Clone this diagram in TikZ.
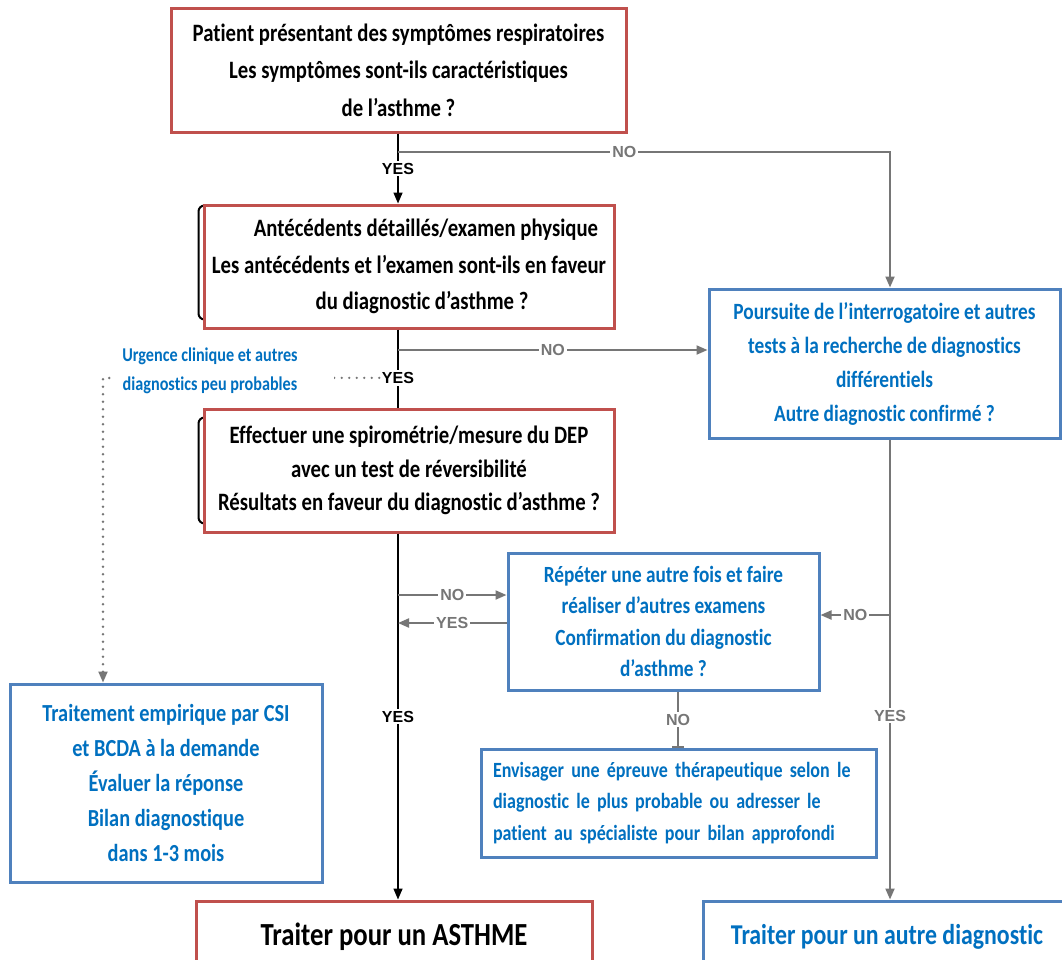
\documentclass[tikz,border=0pt]{standalone}
\usepackage{fontspec}
\setmainfont[FakeStretch=0.83, Ligatures=NoCommon]{Carlito}
\newfontfamily\tagfont{Liberation Sans}
\usetikzlibrary{arrows.meta,positioning,backgrounds}
\definecolor{boxred}{RGB}{192,80,77}
\definecolor{boxblue}{RGB}{79,129,189}
\definecolor{textblue}{RGB}{0,112,192}
\definecolor{linegray}{RGB}{118,118,118}

\begin{document}
\begin{tikzpicture}[x=1pt, y=-1pt,
  redbox/.style={draw=boxred, line width=3pt, fill=white, align=center, inner sep=0pt},
  bluebox/.style={draw=boxblue, line width=3pt, fill=white, align=center, inner sep=0pt, text=textblue},
  mainline/.style={black, line width=1.5pt},
  sideline/.style={linegray, line width=2pt},
  dotline/.style={linegray, line width=2.6pt, line cap=round, dash pattern=on 0pt off 7.5pt},
  arrow/.style={-{Triangle[length=11pt,width=9pt]}},
  tag/.style={fill=white, inner sep=2pt, text=linegray, font=\tagfont\bfseries\fontsize{16}{16}\selectfont}
]
\useasboundingbox (0,0) rectangle (1062,959);

% question boxes
\node[redbox, minimum width=455pt, minimum height=124pt, font=\bfseries\fontsize{25}{37.5}\selectfont] (symptomes) at (398.5,70)
  {Patient présentant des symptômes respiratoires\\Les symptômes sont-ils caractéristiques\\de l’asthme ?};
\node[redbox, minimum width=410pt, minimum height=123pt, font=\bfseries\fontsize{25}{36.5}\selectfont] (antecedents) at (409,266.5)
  {\hspace*{34pt}Antécédents détaillés/examen physique\\Les antécédents et l’examen sont-ils en faveur\\\hspace*{26pt}du diagnostic d’asthme ?};
\node[redbox, minimum width=410pt, minimum height=123pt, font=\bfseries\fontsize{25}{33.5}\selectfont] (spiro) at (409,470.5)
  {Effectuer une spirométrie/mesure du DEP\\avec un test de réversibilité\\Résultats en faveur du diagnostic d’asthme ?};
\node[bluebox, minimum width=351pt, minimum height=149pt, font=\bfseries\fontsize{23.3}{34}\selectfont] (poursuite) at (884.5,363.5)
  {Poursuite de l’interrogatoire et autres\\tests à la recherche de diagnostics\\différentiels\\Autre diagnostic confirmé ?};
\node[bluebox, minimum width=311pt, minimum height=137pt, font=\bfseries\fontsize{23.2}{31.3}\selectfont] (repeter) at (663.5,621.5)
  {Répéter une autre fois et faire\\réaliser d’autres examens\\Confirmation du diagnostic\\d’asthme ?};
\node[bluebox, align=left, text width=371pt, inner xsep=12pt, minimum height=108pt, font=\bfseries\fontsize{21.7}{31.5}\selectfont] (envisager) at (678.5,803)
  {Envisager une épreuve thérapeutique selon le\\diagnostic le plus probable ou adresser le\\patient au spécialiste pour bilan approfondi};
\node[bluebox, minimum width=312pt, minimum height=198pt, font=\bfseries\fontsize{24.5}{35}\selectfont] (empirique) at (166,783)
  {Traitement empirique par CSI\\et BCDA à la demande\\Évaluer la réponse\\Bilan diagnostique\\dans 1-3 mois};
\node[redbox, minimum width=396pt, minimum height=72pt, font=\bfseries\fontsize{32.2}{32}\selectfont] (asthme) at (394,937)
  {Traiter pour un ASTHME};
\node[bluebox, minimum width=368pt, minimum height=72pt, font=\bfseries\fontsize{28.7}{28}\selectfont] (autre) at (887,937)
  {Traiter pour un autre diagnostic};

\begin{scope}[on background layer]
\fill[white] (0,0) rectangle (1062,959);
\draw[black, line width=2pt, rounded corners=6pt] ([shift={(-4pt,-2pt)}]antecedents.north west) rectangle ([shift={(-30pt,10pt)}]antecedents.south east);
\draw[black, line width=2pt, rounded corners=6pt] ([shift={(-4pt,-10pt)}]spiro.north west) rectangle ([shift={(-30pt,10pt)}]spiro.south east);
\end{scope}

% axes of the connectors
\coordinate (axis) at (398,0);
\coordinate (raxis) at (890,0);
\coordinate (maxis) at (678,0);
\coordinate (no1) at (0,152);
\coordinate (no2) at (0,350);
\coordinate (no3) at (0,595);
\coordinate (yes4) at (0,623);
\coordinate (no5) at (0,615);
\coordinate (dotbend) at (103,378);

% yes path
\draw[mainline, arrow] (axis |- symptomes.south) -- node[tag, text=black] {YES} (axis |- antecedents.north);
\draw[mainline] (axis |- antecedents.south) -- node[tag, text=black, pos=0.62] (yes2) {YES} (axis |- spiro.north);
\draw[mainline, arrow] (axis |- spiro.south) -- node[tag, text=black] {YES} (axis |- asthme.north);

% no paths
\draw[sideline, arrow] (axis |- no1) -| node[tag, pos=0.23] {NO} (raxis |- poursuite.north);
\draw[sideline, arrow] (axis |- no2) -- node[tag] {NO} (poursuite.west |- no2);
\draw[sideline, arrow] (axis |- no3) -- node[tag] {NO} (repeter.west |- no3);
\draw[sideline, arrow] (repeter.west |- yes4) -- node[tag] {YES} (axis |- yes4);
\draw[sideline, arrow] (raxis |- poursuite.south) -- node[tag, pos=0.6] {YES} (raxis |- autre.north);
\draw[sideline, arrow] (raxis |- no5) -- node[tag] {NO} (repeter.east |- no5);
\draw[sideline, -{Bar[width=12pt]}] (maxis |- repeter.south) -- node[tag] {NO} (maxis |- envisager.north);

% urgence
\draw[dotline] (yes2.west) -- (dotbend) -- ([yshift=8pt]dotbend |- empirique.north);
\draw[linegray, line width=2pt, arrow] ([yshift=10pt]dotbend |- empirique.north) -- (dotbend |- empirique.north);
\node[fill=white, inner sep=3pt, minimum width=222pt, align=center, text=textblue, font=\bfseries\fontsize{19.5}{29}\selectfont] (urgence) at (223,371)
  {Urgence clinique et autres\hspace*{26pt}\\diagnostics peu probables\hspace*{26pt}};
\end{tikzpicture}
\end{document}
